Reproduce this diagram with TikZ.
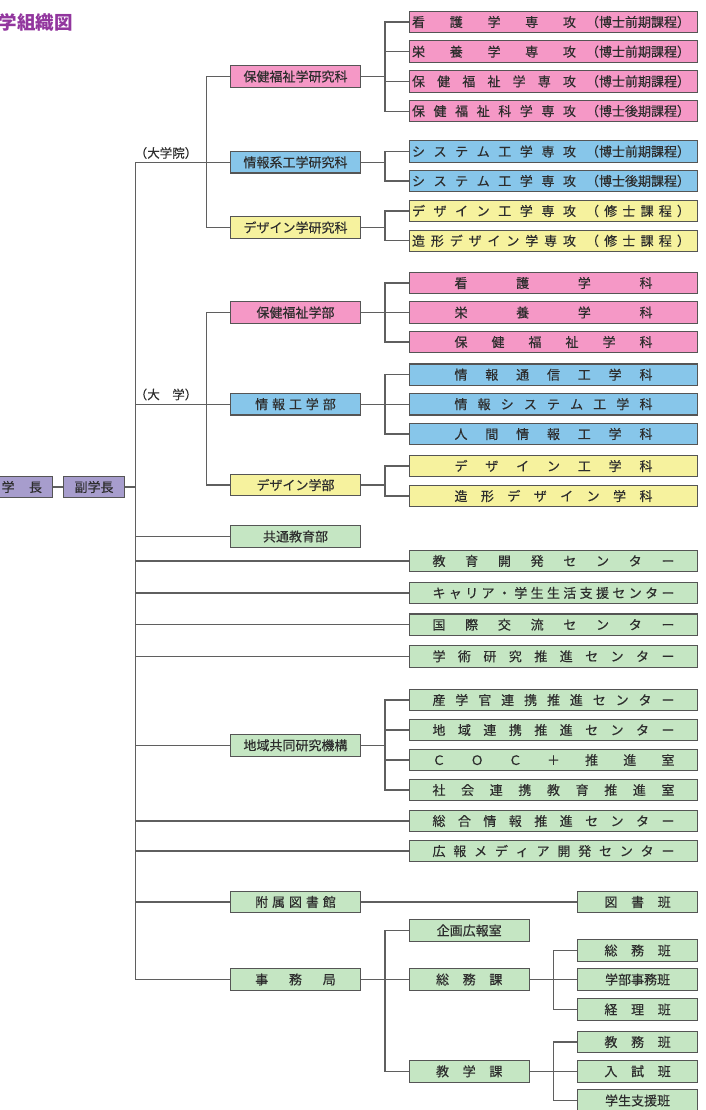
\documentclass[tikz,border=0pt]{standalone}
\usepackage{fontspec}
\usepackage{tikz}
\usetikzlibrary{positioning,calc}
\newfontfamily\jpfont{Noto Sans CJK JP}[FakeBold=0.3]
\newfontfamily\jptitle{Noto Sans CJK JP}
\definecolor{orgPink}{RGB}{245,152,198}
\definecolor{orgBlue}{RGB}{135,198,234}
\definecolor{orgYellow}{RGB}{246,242,158}
\definecolor{orgGreen}{RGB}{197,230,195}
\definecolor{orgPurple}{RGB}{167,157,205}
\definecolor{orgBorder}{RGB}{85,85,85}
\definecolor{orgLine}{RGB}{95,95,95}
\definecolor{orgText}{RGB}{45,45,45}
\definecolor{orgTitle}{RGB}{146,54,158}
\makeatletter
\def\sp@end{\sp@end@}
\def\sp@loop#1{\ifx#1\sp@end\else\sp@sep#1\let\sp@sep\hfill\expandafter\sp@loop\fi}
\newcommand\spreadtext[2]{\hbox to #1{\let\sp@sep\relax\edef\sp@list{#2}\expandafter\sp@loop\sp@list\sp@end}}
\makeatother
\newcommand\spectext[2]{\hbox to 288.4pt{\hskip2.7pt\spreadtext{164pt}{#1}\hskip10pt\hbox to 104pt{\hss#2\hss}\hss}}
\tikzset{
  orgbox/.style={draw=orgBorder, line width=1.1pt, inner sep=0pt, minimum height=21.5pt,
                 text=orgText, font=\jpfont\fontsize{13}{13}\selectfont},
  widebox/.style={orgbox, minimum width=288.4pt},
  midbox/.style={orgbox, minimum width=129.6pt},
  smallbox/.style={orgbox, minimum width=119.7pt, fill=orgGreen},
  headbox/.style={orgbox, minimum width=61.2pt, fill=orgPurple},
  lbl/.style={inner sep=0pt, text=orgText, font=\jpfont\fontsize{12.5}{12.5}\selectfont},
  conn/.style={draw=orgLine, line width=1.1pt}
}
\begin{document}
\begin{tikzpicture}[x=1pt, y=-1pt]
\useasboundingbox (0,0) rectangle (706,1110);
\node[inner sep=0pt, anchor=west, text=orgTitle, font=\jptitle\bfseries\fontsize{18.5}{18.5}\selectfont] (title) at (-1.5,22.5) {学組織図};
\node[headbox] (gakucho) at (21.8,487) {\spreadtext{3.1em}{学長}};
\node[headbox] (fuku) at (94,487) {副学長};
\node[lbl] (lblGrad) at (166,153) {（大学院）};
\node[lbl] (lblUniv) at (166,394.5) {（大　学）};
\node[midbox, fill=orgPink] (gsA) at (295.5,76.5) {保健福祉学研究科};
\node[midbox, fill=orgBlue] (gsB) at (295.5,162.3) {情報系工学研究科};
\node[midbox, fill=orgYellow] (gsC) at (295.5,227.5) {デザイン学研究科};
\node[midbox, fill=orgPink] (facA) at (295.5,312.5) {保健福祉学部};
\node[midbox, fill=orgBlue] (facB) at (295.5,404.2) {\spreadtext{6.2em}{情報工学部}};
\node[midbox, fill=orgYellow] (facC) at (295.5,485) {デザイン学部};
\node[midbox, fill=orgGreen] (kyotsu) at (295.5,536.5) {共通教育部};
\node[midbox, fill=orgGreen] (chiiki) at (295.5,745.3) {地域共同研究機構};
\node[midbox, fill=orgGreen] (fuzoku) at (295.5,902) {\spreadtext{6.2em}{附属図書館}};
\node[midbox, fill=orgGreen] (jimu) at (295.5,979.5) {\spreadtext{6.2em}{事務局}};
\foreach \n/\y/\fc/\lft/\rgt in {sA/22/orgPink/看護学専攻/（博士前期課程）,
    sB/51.7/orgPink/栄養学専攻/（博士前期課程）, sC/81.4/orgPink/保健福祉学専攻/（博士前期課程）,
    sD/111.1/orgPink/保健福祉科学専攻/（博士後期課程）, sE/151.5/orgBlue/システム工学専攻/（博士前期課程）,
    sF/181/orgBlue/システム工学専攻/（博士後期課程）,
    sG/211/orgYellow/デザイン工学専攻/\spreadtext{104pt}{（修士課程）},
    sH/240.8/orgYellow/造形デザイン学専攻/\spreadtext{104pt}{（修士課程）}}
  \node[widebox, fill=\fc] (\n) at (553.5,\y) {\spectext{\lft}{\rgt}};
\foreach \n/\y/\fc/\lbl in {dA/283/orgPink/看護学科, dB/312.5/orgPink/栄養学科,
    dC/342/orgPink/保健福祉学科, dD/374.7/orgBlue/情報通信工学科, dE/404.2/orgBlue/情報システム工学科,
    dF/434/orgBlue/人間情報工学科, dG/466/orgYellow/デザイン工学科, dH/496/orgYellow/造形デザイン学科}
  \node[widebox, fill=\fc] (\n) at (553.5,\y) {\spreadtext{198pt}{\lbl}};
\foreach \n/\y/\lbl in {cA/561/教育開発センター, cB/593/キャリア・学生生活支援センター,
    cC/624.7/国際交流センター, cD/656.3/学術研究推進センター, rA/700/産学官連携推進センター,
    rB/730/地域連携推進センター, rC/760/ＣＯＣ＋推進室, rD/790/社会連携教育推進室,
    cE/821/総合情報推進センター, cF/851/広報メディア開発センター}
  \node[widebox, fill=orgGreen] (\n) at (553.5,\y) {\spreadtext{242pt}{\lbl}};
\node[smallbox] (kikaku) at (469.2,930.5) {企画広報室};
\node[smallbox] (somu) at (469.2,979.5) {\spreadtext{5.1em}{総務課}};
\node[smallbox] (kyogaku) at (469.2,1071.3) {\spreadtext{5.1em}{教学課}};
\node[smallbox] (toshohan) at (637.6,902) {\spreadtext{5.1em}{図書班}};
\node[smallbox] (somuhan) at (637.6,950.5) {\spreadtext{5.1em}{総務班}};
\node[smallbox] (gakubu) at (637.6,979.5) {学部事務班};
\node[smallbox] (keiri) at (637.6,1009.5) {\spreadtext{5.1em}{経理班}};
\node[smallbox] (kyomu) at (637.6,1042) {\spreadtext{5.1em}{教務班}};
\node[smallbox] (nyushi) at (637.6,1071.3) {\spreadtext{5.1em}{入試班}};
\node[smallbox] (gakusei) at (637.6,1100.5) {学生支援班};
\coordinate (trunk) at (135.7,0);
\coordinate (gsv) at (206.7,0);
\coordinate (brA) at (385,0);
\coordinate (brB) at (553.3,0);
\draw[conn] (gakucho.east) -- (fuku.west);
\draw[conn] (fuku.east) -- (fuku.east -| trunk);
\draw[conn] (gsB.west) -| (trunk |- jimu.west) -- (jimu.west);
\foreach \n in {facB,kyotsu,cA,cB,cC,cD,chiiki,cE,cF,fuzoku}
  \draw[conn] (\n.west) -- (\n.west -| trunk);
\draw[conn] (gsA.west) -| (gsv |- gsC.west) -- (gsC.west);
\draw[conn] (facA.west) -| (gsv |- facC.west) -- (facC.west);
\foreach \p/\a/\b in {gsA/sA/sD, gsB/sE/sF, gsC/sG/sH, facA/dA/dC, facB/dD/dF, facC/dG/dH,
    chiiki/rA/rD, jimu/kikaku/kyogaku} {
  \draw[conn] (\p.east) -- (\p.east -| brA);
  \draw[conn] (\a.west) -| (brA |- \b.west) -- (\b.west);
}
\foreach \n in {sB,sC,dB,dE,rB,rC,somu}
  \draw[conn] (\n.west) -- (\n.west -| brA);
\draw[conn] (fuzoku.east) -- (toshohan.west);
\foreach \p/\a/\b in {somu/somuhan/keiri, kyogaku/kyomu/gakusei} {
  \draw[conn] (\p.east) -- (\p.east -| brB);
  \draw[conn] (\a.west) -| (brB |- \b.west) -- (\b.west);
}
\foreach \n in {gakubu,nyushi}
  \draw[conn] (\n.west) -- (\n.west -| brB);
\end{tikzpicture}
\end{document}
